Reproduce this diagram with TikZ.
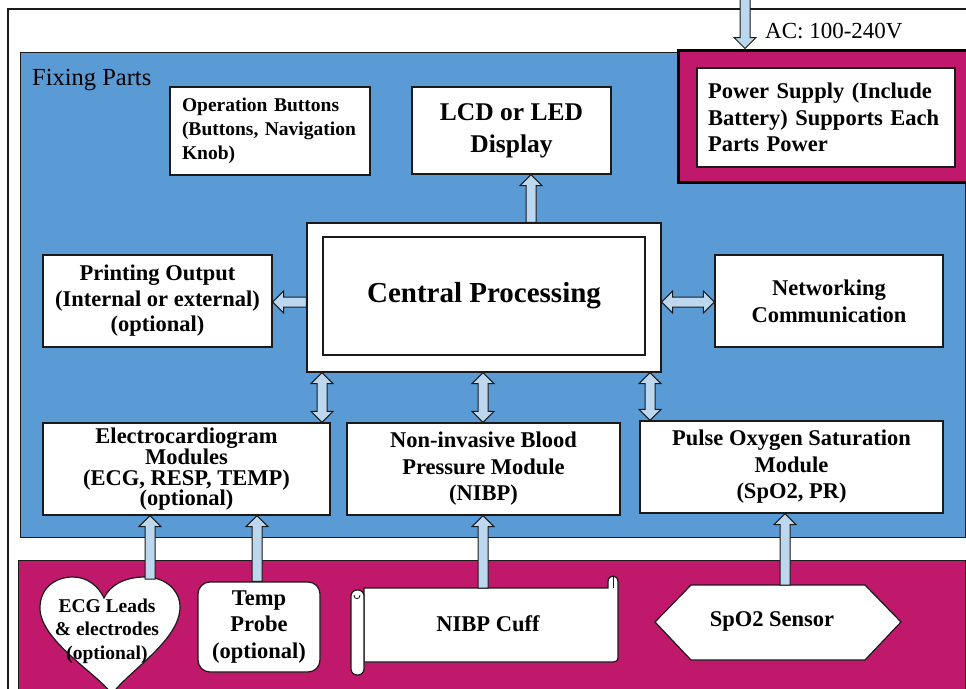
\documentclass[tikz,border=0pt]{standalone}
\usepackage{fontspec}
\setmainfont{Liberation Serif}
\usetikzlibrary{calc}
\definecolor{panelblue}{RGB}{91,155,213}
\definecolor{panelmag}{RGB}{192,24,107}
\definecolor{arrowblue}{RGB}{189,215,238}
\definecolor{edge}{RGB}{26,26,26}
\newcommand\ffix{\fontsize{24.5}{28}\selectfont}
\newcommand\fac{\fontsize{23}{26}\selectfont}
\newcommand\fops{\fontsize{19.5}{24}\selectfont\bfseries}
\newcommand\flcd{\fontsize{25.5}{32}\selectfont\bfseries}
\newcommand\fcp{\fontsize{29}{32}\selectfont\bfseries}
\newcommand\fmodx[1]{\fontsize{22.5}{#1}\selectfont\bfseries}
\newcommand\fheart{\fontsize{19.5}{23.5}\selectfont\bfseries}
% single block arrow from #1 (tail) to #2 (tip)
\newcommand\blkarrow[2]{%
  \coordinate (tmpH) at ($(#2)!11pt!(#1)$);
  \draw[blockarr] ($(#1)!5pt!90:(#2)$) -- ($(tmpH)!5pt!-90:(#1)$) -- ($(tmpH)!11pt!-90:(#1)$)
    -- (#2) -- ($(tmpH)!11pt!90:(#1)$) -- ($(tmpH)!5pt!90:(#1)$) -- ($(#1)!5pt!-90:(#2)$) -- cycle;}
% double block arrow between #1 and #2
\newcommand\dblkarrow[2]{%
  \coordinate (tmpHa) at ($(#1)!11pt!(#2)$);
  \coordinate (tmpHb) at ($(#2)!11pt!(#1)$);
  \draw[blockarr] (#1) -- ($(tmpHa)!11pt!90:(#2)$) -- ($(tmpHa)!5pt!90:(#2)$) -- ($(tmpHb)!5pt!-90:(#1)$)
    -- ($(tmpHb)!11pt!-90:(#1)$) -- (#2) -- ($(tmpHb)!11pt!90:(#1)$) -- ($(tmpHb)!5pt!90:(#1)$)
    -- ($(tmpHa)!5pt!-90:(#2)$) -- ($(tmpHa)!11pt!-90:(#2)$) -- cycle;}
\begin{document}
\begin{tikzpicture}[x=1pt,y=-1pt,
  box/.style={draw=edge, fill=white, line width=1.2pt, inner sep=0pt},
  blockarr/.style={draw=edge, fill=arrowblue, line width=1pt, line join=miter},
  shapeline/.style={draw=edge, fill=white, line width=1.2pt},
  lbl/.style={inner sep=0pt, align=center}]
\useasboundingbox (0,0) rectangle (966,688);
\clip (0,0) rectangle (966,688);
\fill[white] (0,0) rectangle (966,688);
% frames and panels
\draw[line width=1.3pt, draw=edge] (8,9) rectangle (975,700);
\draw[draw=edge, line width=1pt, fill=panelblue] (20,52) rectangle (965,537);
\draw[draw=edge, line width=1pt, fill=panelmag] (18,560) rectangle (965,700);
\node[anchor=base west, font=\ffix, inner sep=0pt] (fix) at (32,85) {Fixing Parts};
\node[anchor=base west, font=\fac, inner sep=0pt] (ac) at (765,38) {AC: 100-240V};
% top row
\node[box, minimum width=200pt, minimum height=88pt, text width=176pt, inner xsep=12pt, align=left, font=\fops] (ops) at (270,131) {Operation Buttons\\(Buttons, Navigation\\Knob)};
\node[box, minimum width=199pt, minimum height=87pt, align=center, font=\flcd] (lcd) at (511.5,130.5) {LCD or LED\\Display};
\node[draw=black, line width=3pt, fill=panelmag, minimum width=294pt, minimum height=132pt, inner sep=0pt] (psOuter) at (825,116) {};
\node[box, minimum width=258pt, minimum height=99pt, text width=236pt, inner xsep=11pt, align=left, font={\fmodx{26.5}}] (ps) at (826,117.5) {Power Supply (Include\\Battery) Supports Each\\Parts Power};
% middle row
\node[box, minimum width=354pt, minimum height=149pt] (cp) at (484,297.5) {};
\node[box, minimum width=322pt, minimum height=118pt, font=\fcp] (cpi) at (484,296) {Central Processing};
\node[box, minimum width=229pt, minimum height=92pt, align=center, font={\fmodx{25.5}}] (print) at (157.5,301) {Printing Output\\(Internal or external)\\(optional)};
\node[box, minimum width=228pt, minimum height=92pt, align=center, font={\fmodx{27}}] (net) at (829,301) {Networking\\Communication};
% modules
\node[box, minimum width=287pt, minimum height=92pt, align=center, font={\fmodx{20.5}}] (ecg) at (186.5,469) {Electrocardiogram\\Modules\\(ECG, RESP, TEMP)\\(optional)};
\node[box, minimum width=273pt, minimum height=92pt, align=center, font={\fmodx{26.5}}] (nibp) at (483.5,469) {Non-invasive Blood\\Pressure Module\\(NIBP)};
\node[box, minimum width=303pt, minimum height=92pt, align=center, font={\fmodx{26.5}}] (spo2) at (791.5,467) {Pulse Oxygen Saturation\\Module\\(SpO2, PR)};
% sensors
\draw[shapeline] (112,694) .. controls (95,672) and (40,640) .. (40,608)
  .. controls (40,588) and (55,577) .. (73,577) .. controls (88,577) and (99,587) .. (104,598)
  .. controls (110,585) and (125,577) .. (145,577) .. controls (165,577) and (180,590) .. (180,607)
  .. controls (180,640) and (130,670) .. (112,694) -- cycle;
\node[lbl, font=\fheart] (heart) at (107,631) {ECG Leads\\\& electrodes\\(optional)};
\node[box, rounded corners=12pt, minimum width=122pt, minimum height=90pt, align=center, font={\fmodx{26.5}}] (temp) at (259,627) {Temp\\Probe\\(optional)};
\draw[shapeline] (364,588) -- (608,588) -- (608,582) .. controls (608,574) and (618,574) .. (618,582)
  -- (618,657) .. controls (618,661) and (616,662) .. (613,662) -- (364,662) -- cycle;
\draw[edge, line width=1pt] (613,577) -- (613,588);
\draw[shapeline, rounded corners=6pt] (351,590) rectangle (364,675);
\draw[edge, line width=0.8pt] (354,595) .. controls (354,600) and (360,600) .. (360,595);
\node[lbl, font={\fmodx{26}}] (cuff) at (488,624) {NIBP Cuff};
\draw[shapeline] (655,622) -- (691,585) -- (865,585) -- (901,622) -- (865,660) -- (691,660) -- cycle;
\node[lbl, font={\fmodx{26}}] (sensor) at (772,621) {SpO2 Sensor};
% arrow end points
\coordinate (acA) at (745,-3);
\coordinate (acB) at (acA |- psOuter.north);
\coordinate (lcdA) at (531,0 |- cp.north);
\coordinate (lcdB) at (531,0 |- lcd.south);
\coordinate (prA) at (cp.west |- 0,302);
\coordinate (prB) at (print.east |- 0,302);
\coordinate (ntA) at (cp.east |- 0,302);
\coordinate (ntB) at (net.west |- 0,302);
\coordinate (v1A) at (322,0 |- cp.south);
\coordinate (v1B) at (322,0 |- ecg.north);
\coordinate (v2A) at (483,0 |- cp.south);
\coordinate (v2B) at (483,0 |- nibp.north);
\coordinate (v3A) at (650,0 |- cp.south);
\coordinate (v3B) at (650,0 |- spo2.north);
\coordinate (u1A) at (150,579);
\coordinate (u1B) at (150,0 |- ecg.south);
\coordinate (u2A) at (257,0 |- temp.north);
\coordinate (u2B) at (257,0 |- ecg.south);
\coordinate (u3A) at (483,588);
\coordinate (u3B) at (483,0 |- nibp.south);
\coordinate (u4A) at (785,585);
\coordinate (u4B) at (785,0 |- spo2.south);
% arrows
\blkarrow{acA}{acB}
\blkarrow{lcdA}{lcdB}
\blkarrow{prA}{prB}
\dblkarrow{ntA}{ntB}
\dblkarrow{v1A}{v1B}
\dblkarrow{v2A}{v2B}
\dblkarrow{v3A}{v3B}
\blkarrow{u1A}{u1B}
\blkarrow{u2A}{u2B}
\blkarrow{u3A}{u3B}
\blkarrow{u4A}{u4B}
\end{tikzpicture}
\end{document}
